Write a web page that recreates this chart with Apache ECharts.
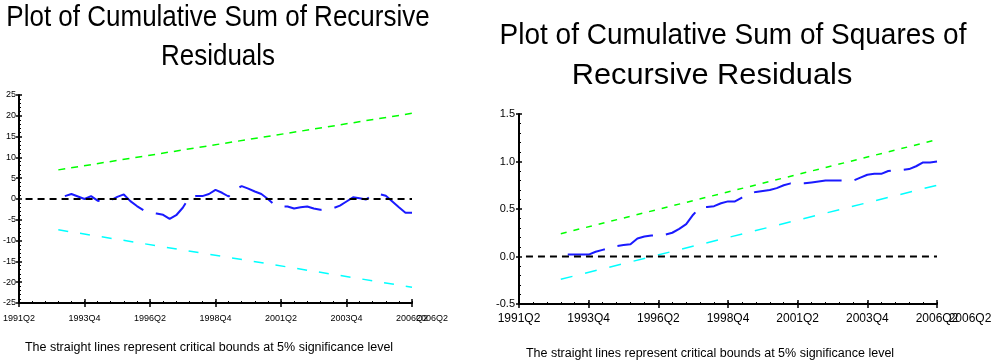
<!DOCTYPE html>
<html><head><meta charset="utf-8">
<script src="https://cdn.jsdelivr.net/npm/echarts@6/dist/echarts.min.js"></script>
<style>html,body{margin:0;padding:0;background:#fff}#c{width:993px;height:360px}</style>
</head><body><div id="c"></div>
<script>
// Categories: quarters on both x axes
const quarters = [
  '1991Q2','1991Q3','1991Q4',
  '1992Q1','1992Q2','1992Q3','1992Q4',
  '1993Q1','1993Q2','1993Q3','1993Q4',
  '1994Q1','1994Q2','1994Q3','1994Q4',
  '1995Q1','1995Q2','1995Q3','1995Q4',
  '1996Q1','1996Q2','1996Q3','1996Q4',
  '1997Q1','1997Q2','1997Q3','1997Q4',
  '1998Q1','1998Q2','1998Q3','1998Q4',
  '1999Q1','1999Q2','1999Q3','1999Q4',
  '2000Q1','2000Q2','2000Q3','2000Q4',
  '2001Q1','2001Q2','2001Q3','2001Q4',
  '2002Q1','2002Q2','2002Q3','2002Q4',
  '2003Q1','2003Q2','2003Q3','2003Q4',
  '2004Q1','2004Q2','2004Q3','2004Q4',
  '2005Q1','2005Q2','2005Q3','2005Q4',
  '2006Q1','2006Q2'
];
const seriesStart = '1993Q1';
const endLabel = '2006Q2';

// Cumulative sum of recursive residuals (from 1993Q1 to 2006Q2)
const cusum = [
  0.7, 1.2, 0.6, 0.0, 0.7, -0.4, -0.7, -0.3, 0.5, 1.1,
  -0.5, -1.7, -2.7, -3.3, -3.5, -3.8, -4.8, -3.9, -2.1, 0.4,
  0.7, 0.7, 1.2, 2.2, 1.5, 0.6, 2.3, 3.1, 2.5, 1.8,
  1.2, 0.0, -1.4, -1.8, -1.8, -2.3, -2.0, -1.8, -2.3, -2.6,
  -2.4, -2.2, -1.6, -0.6, 0.4, 0.2, -0.1, 1.0, 1.2, 0.8,
  -0.6, -2.0, -3.3, -3.3
];
const cusumUpper = [['1992Q4', 7.0], ['2006Q2', 20.6]];
const cusumLower = [['1992Q4', -7.4], ['2006Q2', -21.2]];

// Cumulative sum of squares of recursive residuals (from 1993Q1 to 2006Q2)
const cusumsq = [
  0.02, 0.02, 0.02, 0.02, 0.05, 0.07, 0.09, 0.11, 0.12, 0.13,
  0.19, 0.21, 0.22, 0.22, 0.23, 0.25, 0.29, 0.34, 0.44, 0.52,
  0.52, 0.53, 0.56, 0.58, 0.58, 0.62, 0.66, 0.68, 0.69, 0.70,
  0.72, 0.75, 0.77, 0.77, 0.77, 0.78, 0.79, 0.80, 0.80, 0.80,
  0.80, 0.80, 0.83, 0.86, 0.87, 0.87, 0.90, 0.91, 0.91, 0.92,
  0.95, 0.99, 0.99, 1.00
];
const sqUpper = [['1992Q4', 0.24], ['2006Q2', 1.23]];
const sqLower = [['1992Q4', -0.24], ['2006Q2', 0.75]];

const zeroLine = [['1991Q3', 0], ['2006Q2', 0]];

// Y tick settings
const cusumY = { min: -25, max: 25, interval: 5 };
const sqY = { min: -0.5, max: 1.5, interval: 0.5 };

const titleLeft = ['Plot of Cumulative Sum of Recursive', 'Residuals'];
const titleRight = ['Plot of Cumulative Sum of Squares of', 'Recursive Residuals'];
const footnote = 'The straight lines represent critical bounds at 5% significance level';

const FONT = '"Liberation Sans", Arial, sans-serif';
const startIdx = quarters.indexOf(seriesStart);
const toPairs = arr => arr.map((v, i) => [quarters[startIdx + i], v]);

function xAxes(grid, fontSize, margin) {
  const base = { gridIndex: grid, type: 'category', data: quarters, boundaryGap: false, position: 'bottom', splitLine: { show: false } };
  return [
    Object.assign({}, base, {
      axisLine: { onZero: false, lineStyle: { color: '#000', width: 2 } },
      axisTick: { interval: 9, length: 4, lineStyle: { color: '#000', width: 1.5 } },
      axisLabel: { interval: 9, fontSize: fontSize, margin: margin, color: '#000', fontFamily: FONT }
    }),
    Object.assign({}, base, {
      axisLine: { show: false, onZero: false },
      axisTick: { inside: true, interval: 9, length: 4, lineStyle: { color: '#000', width: 1.5 } },
      axisLabel: { show: false }
    }),
    Object.assign({}, base, {
      axisLine: { show: false, onZero: false },
      axisTick: { inside: true, interval: 1, length: 2, lineStyle: { color: '#000', width: 1 } },
      axisLabel: { show: false }
    })
  ];
}
function yAxes(grid, rng, fmt, fontSize, margin) {
  const base = { gridIndex: grid, type: 'value', position: 'left', min: rng.min, max: rng.max, interval: rng.interval, splitLine: { show: false } };
  return [
    Object.assign({}, base, {
      axisLine: { show: true, onZero: false, lineStyle: { color: '#000', width: 2 } },
      axisTick: { show: true, length: 3, lineStyle: { color: '#000', width: 1.5 } },
      axisLabel: { formatter: fmt, fontSize: fontSize, margin: margin, color: '#000', fontFamily: FONT }
    }),
    Object.assign({}, base, {
      axisLine: { show: false, onZero: false },
      axisTick: { show: true, inside: true, length: 3, lineStyle: { color: '#000', width: 1.5 } },
      minorTick: { show: true, splitNumber: 5, length: 2, lineStyle: { color: '#000', width: 1 } },
      axisLabel: { show: false }
    })
  ];
}
function line(xi, yi, data, color, width, dash, z) {
  return { type: 'line', xAxisIndex: xi, yAxisIndex: yi, data: data, symbol: 'none', silent: true, z: z,
    lineStyle: { color: color, width: width, type: dash } };
}
function txt(x, y, text, size, sx, sy) {
  return { type: 'text', x: x, y: y, scaleX: sx || 1, scaleY: sy || 1,
    style: { text: text, fontSize: size, fontFamily: FONT, fill: '#000', textAlign: 'center', textVerticalAlign: 'middle' } };
}

const chart = echarts.init(document.getElementById('c'), null, { renderer: 'canvas' });
chart.setOption({
  animation: false,
  backgroundColor: '#fff',
  grid: [
    { left: 17, top: 95, width: 395, height: 208 },
    { left: 519, top: 114, width: 418, height: 190 }
  ],
  xAxis: xAxes(0, 9, 11).concat(xAxes(1, 12, 9)),
  yAxis: yAxes(0, cusumY, v => String(v), 9, 3).concat(yAxes(1, sqY, v => v.toFixed(1), 11, 4)),
  series: [
    line(0, 0, cusumUpper, '#00ff00', 1.5, [7, 6], 2),
    line(0, 0, cusumLower, '#00ffff', 1.5, [10, 12], 2),
    line(0, 0, toPairs(cusum), '#1a1aff', 2, [38, 13], 3),
    line(0, 0, zeroLine, '#000', 2, [7, 5], 4),
    line(3, 2, sqUpper, '#00ff00', 1.5, [6, 7], 2),
    line(3, 2, sqLower, '#00ffff', 1.5, [12, 13], 2),
    line(3, 2, toPairs(cusumsq), '#1a1aff', 2, [38, 13], 3),
    line(3, 2, zeroLine, '#000', 2, [7, 5], 4)
  ],
  graphic: [
    txt(218, 18, titleLeft[0], 26, 1, 1.12),
    txt(218, 57, titleLeft[1], 26, 1, 1.12),
    txt(733, 36, titleRight[0], 28, 1, 1.04),
    txt(712, 76, titleRight[1], 28, 1.1, 1.04),
    txt(209, 348, footnote, 12.5),
    txt(710, 354, footnote, 12.5),
    txt(432, 319, endLabel, 9),
    txt(970, 319, endLabel, 12)
  ]
});
</script></body></html>
